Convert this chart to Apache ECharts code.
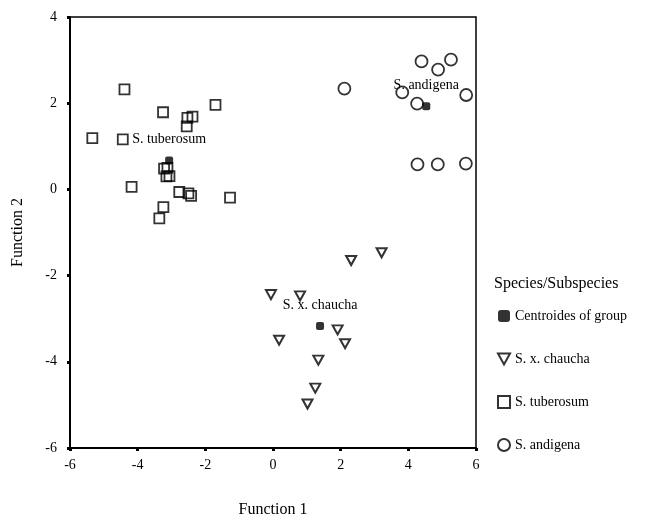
<!DOCTYPE html>
<html>
<head>
<meta charset="utf-8">
<script src="https://cdn.jsdelivr.net/npm/echarts@6/dist/echarts.min.js"></script>
<style>html,body{margin:0;padding:0;background:#fff}#c{width:647px;height:523px}</style>
</head>
<body>
<div id="c"></div>
<script>
// Tick values
var xTicks = [-6, -4, -2, 0, 2, 4, 6];
var yTicks = [-6, -4, -2, 0, 2, 4];

// Group centroids
var centroidNames = ['S. tuberosum', 'S. andigena', 'S. x. chaucha'];
var centroidX = [-3.07, 4.53, 1.39];
var centroidY = [0.67, 1.93, -3.17];

// S. x. chaucha
var chauchaX = [3.21, 2.31, -0.06, 0.80, 1.91, 0.18, 2.13, 1.34, 1.25, 1.02];
var chauchaY = [-1.47, -1.65, -2.44, -2.47, -3.26, -3.50, -3.58, -3.96, -4.61, -4.98];

// S. tuberosum
var tuberosumX = [-4.39, -5.34, -4.44, -3.25, -2.53, -2.38, -2.55, -1.70, -4.18, -3.22, -3.12, -3.06, -3.15, -2.77, -2.50, -2.42, -1.27, -3.24, -3.36];
var tuberosumY = [2.32, 1.19, 1.16, 1.79, 1.66, 1.69, 1.46, 1.96, 0.06, 0.48, 0.50, 0.31, 0.30, -0.06, -0.09, -0.15, -0.19, -0.41, -0.67];

// S. andigena
var andigenaX = [2.11, 4.39, 4.88, 5.26, 3.82, 5.71, 4.26, 4.27, 4.87, 5.70];
var andigenaY = [2.34, 2.97, 2.78, 3.01, 2.25, 2.19, 1.99, 0.58, 0.58, 0.60];

var legendTitle = 'Species/Subspecies';
var xName = 'Function 1';
var yName = 'Function 2';

function pairs(xs, ys) { return xs.map(function (x, i) { return [x, ys[i]]; }); }

var FONT = 'Liberation Serif';
var triPath = 'path://M0,0 L10,0 L5,9 Z';

var chart = echarts.init(document.getElementById('c'), null, { renderer: 'canvas' });
chart.setOption({
  backgroundColor: '#fff',
  animation: false,
  textStyle: { fontFamily: FONT, color: '#000' },
  title: {
    text: legendTitle, left: 489, top: 271,
    textStyle: { fontFamily: FONT, fontSize: 16, fontWeight: 'normal', color: '#000' }
  },
  legend: {
    orient: 'vertical', left: 492, top: 304,
    itemWidth: 12, itemHeight: 12, itemGap: 29,
    textStyle: { fontFamily: FONT, fontSize: 14, color: '#000' },
    data: ['Centroides of group', 'S. x. chaucha', 'S. tuberosum', 'S. andigena']
  },
  grid: {
    left: 70, right: 171, top: 17, bottom: 70,
    show: true, borderColor: '#000', borderWidth: 1.5, backgroundColor: 'transparent'
  },
  xAxis: {
    type: 'value', min: -6, max: 6, interval: 2,
    name: xName, nameLocation: 'middle', nameGap: 54,
    nameTextStyle: { fontFamily: FONT, fontSize: 16, color: '#000' },
    axisLine: { show: true, onZero: false, lineStyle: { color: '#000', width: 2 } },
    axisTick: { show: true, length: 3, lineStyle: { color: '#000', width: 3 } },
    axisLabel: { fontFamily: FONT, fontSize: 14, color: '#000', margin: 10 },
    splitLine: { show: false }
  },
  yAxis: {
    type: 'value', min: -6, max: 4, interval: 2,
    name: yName, nameLocation: 'middle', nameGap: 44,
    nameTextStyle: { fontFamily: FONT, fontSize: 16, color: '#000' },
    axisLine: { show: true, onZero: false, lineStyle: { color: '#000', width: 2 } },
    axisTick: { show: true, length: 3, lineStyle: { color: '#000', width: 3 } },
    axisLabel: { fontFamily: FONT, fontSize: 14, color: '#000', margin: 13 },
    splitLine: { show: false }
  },
  series: [
    {
      name: 'Centroides of group', type: 'scatter', z: 5,
      symbol: 'roundRect', symbolSize: 8,
      itemStyle: { color: '#000' },
      data: centroidNames.map(function (n, i) { return { name: n, value: [centroidX[i], centroidY[i]] }; }),
      label: {
        show: true, position: 'top', distance: 10,
        formatter: '{b}', fontFamily: FONT, fontSize: 14, color: '#000',
        textBorderWidth: 0, opacity: 1
      },
      labelLayout: { hideOverlap: false }
    },
    {
      name: 'S. x. chaucha', type: 'scatter',
      symbol: triPath, symbolSize: [10, 9],
      itemStyle: { color: '#fff', borderColor: '#000', borderWidth: 2 },
      data: pairs(chauchaX, chauchaY)
    },
    {
      name: 'S. tuberosum', type: 'scatter',
      symbol: 'rect', symbolSize: 10,
      itemStyle: { color: 'rgba(255,255,255,0)', borderColor: '#000', borderWidth: 1.8 },
      data: pairs(tuberosumX, tuberosumY)
    },
    {
      name: 'S. andigena', type: 'scatter',
      symbol: 'circle', symbolSize: 12,
      itemStyle: { color: 'rgba(255,255,255,0)', borderColor: '#000', borderWidth: 1.8 },
      data: pairs(andigenaX, andigenaY)
    }
  ]
});
</script>
</body>
</html>
